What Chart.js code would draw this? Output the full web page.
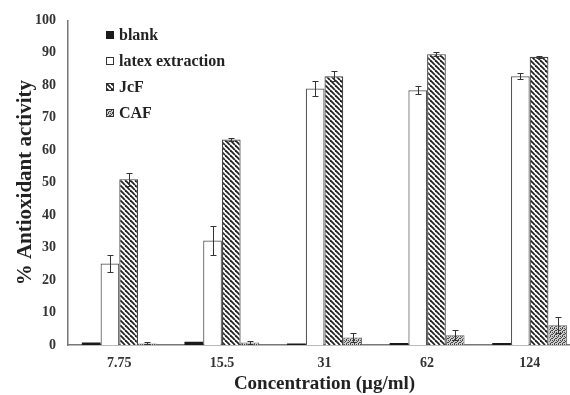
<!DOCTYPE html>
<html lang="en">
<head>
  <meta charset="UTF-8">
  <title>% Antioxidant activity</title>
  <script src="https://cdn.jsdelivr.net/npm/chart.js"></script>
  <style>
    body { margin: 0; background: #fff; overflow: hidden; }
    .wrap { position: relative; width: 581px; height: 395px; }
    .legend { position: absolute; left: 106px; top: 22px; font-family: "Liberation Serif", "Times New Roman", serif; font-weight: bold; font-size: 16px; color: #222; }
    .legend .item { display: flex; align-items: center; height: 26px; }
    .legend canvas { margin-right: 5px; }
  </style>
</head>
<body>
  <div class="wrap">
    <canvas id="chart" width="581" height="395"></canvas>
    <div class="legend" id="legend"></div>
  </div>

  <script>
    const categories = ['7.75', '15.5', '31', '62', '124'];
    const seriesNames = ['blank', 'latex extraction', 'JcF', 'CAF'];

    const blankValues = [0.8, 1.0, 0.5, 0.6, 0.6];
    const latexValues = [25.1, 32.2, 79.0, 78.5, 82.8];
    const jcfValues = [51.1, 63.3, 82.8, 89.6, 88.8];
    const cafValues = [0.5, 0.8, 2.3, 3.0, 6.1];

    const latexErrors = [2.6, 4.4, 2.2, 1.3, 1.0];
    const jcfErrors = [2.0, 0.6, 1.6, 0.7, 0.3];
    const cafErrors = [0.3, 0.4, 1.5, 1.6, 2.5];

    const yTicks = [0, 10, 20, 30, 40, 50, 60, 70, 80, 90, 100];

    // hatch "\" stripes for JcF
    function hatchPattern() {
      const s = 5;
      const c = document.createElement('canvas');
      c.width = s; c.height = s;
      const g = c.getContext('2d');
      g.fillStyle = '#fff';
      g.fillRect(0, 0, s, s);
      g.strokeStyle = '#222';
      g.lineWidth = 1.8;
      for (const k of [-s, 0, s]) {
        g.beginPath();
        g.moveTo(k, 0);
        g.lineTo(k + s, s);
        g.stroke();
      }
      return g.createPattern(c, 'repeat');
    }

    // fine grey texture for CAF
    function dotPattern() {
      const c = document.createElement('canvas');
      c.width = 4; c.height = 4;
      const g = c.getContext('2d');
      g.fillStyle = '#cfcfcf';
      g.fillRect(0, 0, 4, 4);
      g.fillStyle = '#444';
      [[0, 0], [2, 0], [1, 1], [3, 2], [0, 2], [2, 3]].forEach(p => g.fillRect(p[0], p[1], 1, 1));
      return g.createPattern(c, 'repeat');
    }

    const ctx = document.getElementById('chart').getContext('2d');
    const fills = ['#1a1a1a', '#ffffff', hatchPattern(), dotPattern()];
    const borders = ['#1a1a1a', '#555', '#444', '#666'];

    const errorBars = {
      id: 'errorBars',
      afterDatasetsDraw(chart) {
        const c = chart.ctx;
        const y = chart.scales.y;
        c.save();
        c.strokeStyle = '#333';
        c.lineWidth = 1;
        chart.data.datasets.forEach((ds, i) => {
          if (!ds.errors) return;
          chart.getDatasetMeta(i).data.forEach((bar, j) => {
            const v = ds.data[j], e = ds.errors[j];
            const top = Math.round(y.getPixelForValue(v + e)) + 0.5;
            const bot = Math.round(y.getPixelForValue(Math.max(v - e, 0))) + 0.5;
            const x = Math.round(bar.x) + 0.5;
            c.beginPath();
            c.moveTo(x, top); c.lineTo(x, bot);
            c.moveTo(x - 3, top); c.lineTo(x + 3, top);
            c.moveTo(x - 3, bot); c.lineTo(x + 3, bot);
            c.stroke();
          });
        });
        c.restore();
      }
    };

    const serif = '"Liberation Serif", "Times New Roman", serif';

    new Chart(ctx, {
      type: 'bar',
      plugins: [errorBars],
      data: {
        labels: categories,
        datasets: [
          { label: seriesNames[0], data: blankValues, backgroundColor: fills[0], borderColor: borders[0], borderWidth: 0 },
          { label: seriesNames[1], data: latexValues, errors: latexErrors, backgroundColor: fills[1], borderColor: borders[1], borderWidth: 1.2 },
          { label: seriesNames[2], data: jcfValues, errors: jcfErrors, backgroundColor: fills[2], borderColor: borders[2], borderWidth: 1.2 },
          { label: seriesNames[3], data: cafValues, errors: cafErrors, backgroundColor: fills[3], borderColor: borders[3], borderWidth: 1 }
        ]
      },
      options: {
        responsive: false,
        animation: false,
        layout: { padding: { top: 17, right: 0, bottom: 0, left: 0 } },
        datasets: { bar: { categoryPercentage: 0.73, barPercentage: 1.0 } },
        plugins: {
          legend: { display: false },
          tooltip: { enabled: false }
        },
        scales: {
          x: {
            grid: { display: false, drawTicks: false },
            border: { display: true, color: '#777', width: 1.5 },
            ticks: { color: '#333', padding: 10, font: { family: serif, weight: 'bold', size: 14 } },
            title: {
              display: true,
              text: 'Concentration (μg/ml)',
              color: '#222',
              padding: { top: 0, bottom: 0 },
              font: { family: serif, weight: 'bold', size: 19 }
            },
            afterFit(scale) { scale.height = 50; }
          },
          y: {
            min: 0,
            max: 100,
            grid: { display: false, drawTicks: false },
            border: { display: true, color: '#777', width: 1.5 },
            afterBuildTicks(scale) { scale.ticks = yTicks.map(v => ({ value: v })); },
            ticks: { color: '#333', padding: 12, font: { family: serif, weight: 'bold', size: 14 } },
            title: {
              display: true,
              text: '% Antioxidant activity',
              color: '#222',
              padding: { top: 13, bottom: 0 },
              font: { family: serif, weight: 'bold', size: 21 }
            },
            afterFit(scale) { scale.width = 68; }
          }
        }
      }
    });

    // legend inside the plot, top left
    const legend = document.getElementById('legend');
    seriesNames.forEach((name, i) => {
      const item = document.createElement('div');
      item.className = 'item';
      const sw = document.createElement('canvas');
      sw.width = 8; sw.height = 8;
      const g = sw.getContext('2d');
      g.fillStyle = fills[i];
      g.fillRect(0, 0, 8, 8);
      g.strokeStyle = i === 0 ? fills[0] : '#333';
      g.lineWidth = 1;
      g.strokeRect(0.5, 0.5, 7, 7);
      item.appendChild(sw);
      const t = document.createElement('span');
      t.textContent = name;
      item.appendChild(t);
      legend.appendChild(item);
    });
  </script>
</body>
</html>
